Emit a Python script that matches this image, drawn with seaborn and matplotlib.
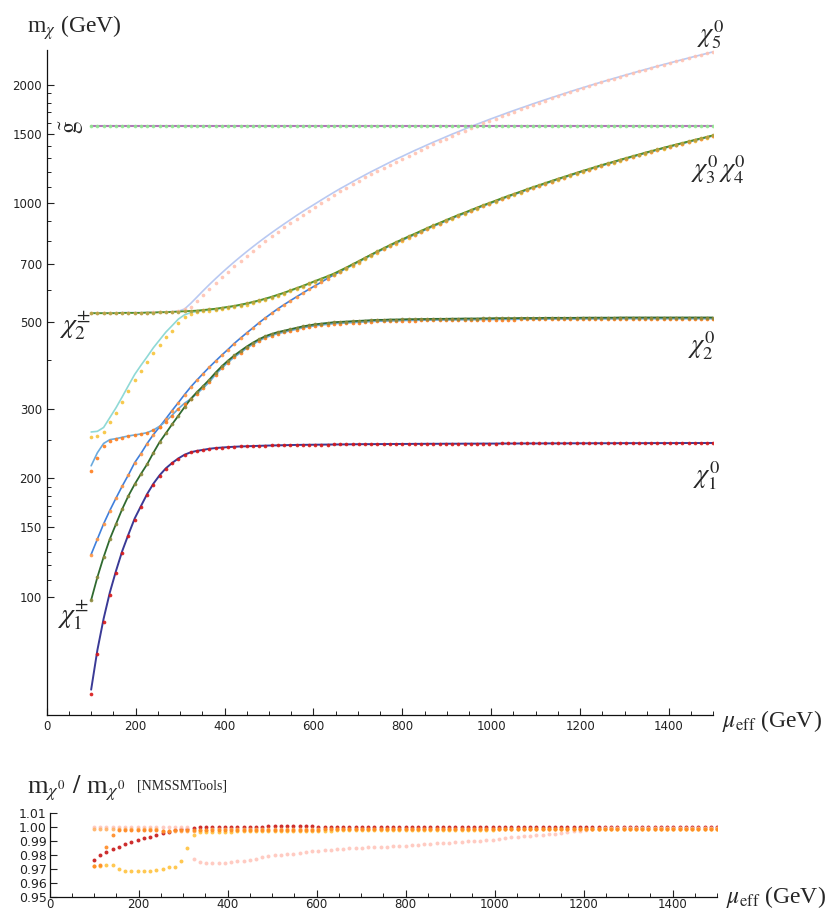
import numpy as np
import matplotlib
matplotlib.use("Agg")
import matplotlib.pyplot as plt
import seaborn as sns

#### DATA ####
mu = [100, 114, 128, 142, 156, 170, 184, 198, 212, 226,
      240, 254, 268, 282, 296, 310, 324, 338, 352, 366,
      380, 394, 408, 422, 436, 450, 464, 478, 492, 506,
      520, 534, 548, 562, 576, 590, 604, 618, 632, 646,
      660, 674, 688, 702, 716, 730, 744, 758, 772, 786,
      800, 814, 828, 842, 856, 870, 884, 898, 912, 926,
      940, 954, 968, 982, 996, 1010, 1024, 1038, 1052, 1066,
      1080, 1094, 1108, 1122, 1136, 1150, 1164, 1178, 1192, 1206,
      1220, 1234, 1248, 1262, 1276, 1290, 1304, 1318, 1332, 1346,
      1360, 1374, 1388, 1402, 1416, 1430, 1444, 1458, 1472, 1486,
      1500]

# neutralino masses (lines)
chi1 = [58.0, 73.1, 87.8, 102.4, 116.3, 130.6, 144.0, 158.0, 169.8, 182.3,
        193.6, 203.4, 211.8, 218.5, 224.4, 229.3, 232.7, 234.6, 236, 237.5,
        238.5, 239.2, 239.8, 240.3, 240.7, 241, 241.3, 241.6, 241.9, 242.1,
        242.3, 242.5, 242.7, 242.9, 243, 243.1, 243.2, 243.3, 243.4, 243.5,
        243.6, 243.7, 243.8, 243.9, 244, 244, 244.1, 244.1, 244.2, 244.2,
        244.3, 244.3, 244.4, 244.4, 244.5, 244.5, 244.5, 244.6, 244.6, 244.6,
        244.7, 244.7, 244.7, 244.8, 244.8, 244.8, 244.9, 244.9, 244.9, 245,
        245, 245, 245, 245.1, 245.1, 245.1, 245.1, 245.2, 245.2, 245.2,
        245.2, 245.3, 245.3, 245.3, 245.3, 245.4, 245.4, 245.4, 245.4, 245.4,
        245.5, 245.5, 245.5, 245.5, 245.5, 245.6, 245.6, 245.6, 245.6, 245.6,
        245.7]
chiA = [128, 140, 153, 165.5, 178, 191, 204, 219, 231, 245,
        258, 270, 283, 297, 311, 326, 341, 355, 369, 383,
        397, 411, 425, 440, 454, 468, 482, 497, 511, 525,
        539, 552, 565, 578, 591, 604, 617, 630, 644, 657,
        670, 684, 698, 711, 725, 739, 752, 766, 780, 793,
        806, 820, 833, 847, 861, 875, 888, 902, 916, 930,
        943, 957, 971, 985, 998, 1012, 1026, 1040, 1053, 1067,
        1081, 1095, 1108, 1122, 1136, 1150, 1163, 1177, 1191, 1205,
        1218, 1232, 1246, 1259, 1272, 1286, 1299, 1313, 1326, 1340,
        1353, 1366, 1380, 1393, 1406, 1419, 1432, 1445, 1458, 1471,
        1485]
chiB = [215, 232, 245, 250.5, 252, 254, 256, 257.5, 259, 261,
        265, 271, 279, 289, 300, 310, 318, 328, 339, 351,
        367, 381, 394, 406, 417, 428, 438, 447, 455, 461,
        466, 470, 474, 478, 482, 485, 488, 490, 492, 494,
        495, 496, 497, 498, 499, 500, 501, 501, 502, 502,
        503, 503.5, 503.5, 504, 504, 504.5, 504.5, 504.5, 505, 505,
        505.5, 505.5, 505.5, 506, 506, 506.5, 506.5, 506.5, 506.5, 507,
        507, 507, 507, 507.5, 507.5, 507.5, 507.5, 507.5, 507.5, 508,
        508, 508, 508, 508, 508, 508.5, 508.5, 508.5, 508.5, 508.5,
        508.5, 508.5, 508.5, 508.5, 508.5, 508.5, 508.5, 508.5, 508.5, 508.5,
        508.5]
chiC = [262, 263, 269, 285, 302, 322, 344, 367, 387, 407,
        429, 449, 470, 488, 507, 520, 527, 530, 533, 535,
        537, 540, 543, 546, 550, 554, 559, 564, 570, 576,
        583, 590, 598, 606, 614, 623, 632, 641, 650, 660,
        670, 682, 695, 708, 722, 736, 750, 764, 778, 791,
        804, 818, 831, 845, 859, 873, 886, 900, 914, 928,
        941, 955, 969, 983, 996, 1010, 1024, 1038, 1051, 1065,
        1079, 1093, 1106, 1120, 1134, 1148, 1161, 1175, 1189, 1203,
        1216, 1230, 1244, 1257, 1270, 1284, 1297, 1311, 1324, 1338,
        1351, 1364, 1378, 1391, 1404, 1417, 1430, 1443, 1456, 1469,
        1483]
chi5 = [526, 526, 526, 526, 526, 527, 527, 527, 527, 527,
        528, 528, 529, 530, 531, 538, 556, 577, 599, 621,
        643, 665, 687, 709, 731, 753, 775, 797, 819, 841,
        863, 885, 907, 930, 952, 974, 996, 1019, 1042, 1065,
        1088, 1110, 1133, 1156, 1179, 1202, 1224, 1247, 1270, 1293,
        1315, 1338, 1361, 1383, 1406, 1429, 1451, 1474, 1497, 1519,
        1542, 1565, 1587, 1609, 1632, 1654, 1676, 1699, 1721, 1743,
        1765, 1788, 1810, 1832, 1854, 1876, 1898, 1921, 1943, 1965,
        1987, 2009, 2031, 2053, 2075, 2097, 2119, 2141, 2163, 2185,
        2207, 2229, 2251, 2272, 2294, 2316, 2338, 2360, 2381, 2403,
        2425]

# charginos and gluino
cha1 = [98, 112, 126, 140, 153, 167, 180.5, 193, 205, 217,
        232, 247, 260, 274, 288, 303, 318, 331, 343, 356,
        371, 385, 398, 410, 421, 432, 442, 451, 459, 465,
        470, 474, 478, 482, 486, 489, 492, 494, 496, 498,
        499, 500, 501, 502, 503, 504, 505, 505, 506, 506,
        506.5, 507, 507, 507.5, 507.5, 508, 508, 508, 508.5, 508.5,
        509, 509, 509, 509.5, 509.5, 510, 510, 510, 510, 510.5,
        510.5, 510.5, 510.5, 511, 511, 511, 511, 511, 511, 511.5,
        511.5, 511.5, 511.5, 511.5, 511.5, 512, 512, 512, 512, 512,
        512, 512, 512, 512, 512, 512, 512, 512, 512, 512,
        512]
cha2 = [525, 525, 525, 525, 525, 526, 526, 526, 526, 527,
        527, 528, 528, 529, 530, 531, 532, 533, 535, 537,
        539, 542, 545, 548, 552, 556, 561, 566, 572, 578,
        585, 592, 600, 608, 616, 625, 634, 643, 652, 662,
        674, 686, 699, 712, 726, 740, 754, 768, 782, 796,
        809, 823, 836, 850, 864, 878, 891, 905, 919, 933,
        946, 960, 974, 988, 1001, 1015, 1029, 1043, 1056, 1070,
        1084, 1098, 1111, 1125, 1139, 1153, 1166, 1180, 1194, 1208,
        1221, 1235, 1249, 1262, 1275, 1289, 1302, 1316, 1329, 1343,
        1356, 1369, 1383, 1396, 1409, 1422, 1435, 1448, 1461, 1474,
        1488]
gluino_mass = 1570

# m_chi0 / m_chi0[NMSSMTools]
ratio_chi1 = [.9765, .9797, .9825, .9843, .9857, .9878, .9893, .9907, .9921, .9928,
              .9943, .9957, .9964, .9976, .9983, .9988, .9991, .9998, 1.0, 1.0,
              1.0001, 1.0001, 1.0002, 1.0002, 1.0002, 1.0003, 1.0003, 1.0003, 1.0004, 1.0004,
              1.0004, 1.0004, 1.0004, 1.0005, 1.0004, 1.0004, 1.0003, 1.0003, 1.0003, 1.0003,
              1.0003, 1.0003, 1.0002, 1.0002, 1.0002, 1.0002, 1.0002, 1.0002, 1.0002, 1.0002,
              1.0002, 1.0002, 1.0002, 1.0002, 1.0002, 1.0002, 1.0002, 1.0002, 1.0002, 1.0002,
              1.0002, 1.0002, 1.0002, 1.0002, 1.0002, 1.0002, 1.0002, 1.0002, 1.0002, 1.0002,
              1.0002, 1.0002, 1.0002, 1.0002, 1.0002, 1.0002, 1.0002, 1.0002, 1.0002, 1.0002,
              1.0002, 1.0002, 1.0002, 1.0002, 1.0002, 1.0002, 1.0002, 1.0002, 1.0002, 1.0002,
              1.0002, 1.0002, 1.0002, 1.0002, 1.0002, 1.0002, 1.0002, 1.0002, 1.0002, 1.0002,
              1.0002]
ratio_chiB = [.9719, .9726, .9855, .9940, .9978, .9980, .9980, .9979, .9978, .9977,
              .9976, .9975, .9975, .9976, .9977, .9978, .9978, .9979, .9979, .9980,
              .9980, .9980, .9980, .9980, .9981, .9981, .9981, .9981, .9981, .9981,
              .9982, .9982, .9982, .9982, .9982, .9982, .9982, .9983, .9983, .9983,
              .9983, .9983, .9983, .9983, .9983, .9983, .9984, .9984, .9984, .9984,
              .9984, .9984, .9984, .9984, .9984, .9984, .9984, .9984, .9985, .9985,
              .9985, .9985, .9985, .9985, .9985, .9985, .9985, .9985, .9985, .9985,
              .9985, .9985, .9985, .9985, .9985, .9985, .9986, .9986, .9986, .9986,
              .9986, .9986, .9986, .9986, .9986, .9986, .9986, .9986, .9986, .9986,
              .9986, .9986, .9986, .9986, .9986, .9986, .9986, .9986, .9986, .9986,
              .9986]
ratio_chiA = [.9988, .9988, .9988, .9988, .9988, .9988, .9988, .9988, .9988, .9988,
              .9986, .9975, .9972, .9970, .9970, .9972, .9975, .9978, .9981, .9983,
              .9984, .9985, .9986, .9986, .9987, .9987, .9987, .9987, .9988, .9988,
              .9988, .9988, .9988, .9988, .9988, .9988, .9988, .9988, .9988, .9988,
              .9988, .9988, .9988, .9988, .9988, .9988, .9988, .9988, .9988, .9988,
              .9988, .9988, .9988, .9988, .9988, .9988, .9988, .9988, .9988, .9988,
              .9988, .9988, .9988, .9988, .9988, .9988, .9988, .9988, .9988, .9988,
              .9988, .9988, .9988, .9988, .9988, .9988, .9988, .9988, .9988, .9988,
              .9988, .9988, .9988, .9988, .9988, .9988, .9988, .9988, .9988, .9988,
              .9988, .9988, .9988, .9988, .9988, .9988, .9988, .9988, .9988, .9988,
              .9988]
ratio_chiC = [.9719, .9724, .9728, .9727, .9700, .9686, .9684, .9684, .9684, .9686,
              .9693, .9700, .9711, .9714, .9754, .9850, .9945, .9962, .9965, .9966,
              .9966, .9967, .9967, .9968, .9968, .9969, .9969, .9970, .9970, .9971,
              .9971, .9972, .9972, .9973, .9973, .9974, .9974, .9975, .9975, .9976,
              .9976, .9977, .9977, .9977, .9978, .9978, .9978, .9979, .9979, .9979,
              .9980, .9980, .9980, .9980, .9981, .9981, .9981, .9981, .9981, .9982,
              .9982, .9982, .9982, .9982, .9982, .9983, .9983, .9983, .9983, .9983,
              .9983, .9983, .9983, .9984, .9984, .9984, .9984, .9984, .9984, .9984,
              .9984, .9984, .9984, .9984, .9984, .9984, .9984, .9984, .9984, .9984,
              .9984, .9984, .9984, .9984, .9984, .9984, .9984, .9984, .9984, .9984,
              .9984]
ratio_chi5 = [1.0003, 1.0003, 1.0003, 1.0003, 1.0003, 1.0003, 1.0003, 1.0003, 1.0003, 1.0003,
              1.0003, 1.0003, 1.0003, 1.0003, 1.0003, 1.0003, .9774, .9747, .9743, .9740,
              .9740, .9745, .9750, .9756, .9760, .9765, .9775, .9783, .9790, .9797,
              .9803, .9807, .9810, .9815, .9820, .9828, .9832, .9835, .9838, .9841,
              .9845, .9848, .9850, .9852, .9854, .9856, .9858, .9860, .9862, .9864,
              .9866, .9868, .9872, .9878, .9881, .9884, .9887, .9889, .9892, .9895,
              .9898, .9900, .9902, .9905, .9910, .9915, .9920, .9926, .9931, .9935,
              .9939, .9942, .9945, .9948, .9952, .9956, .9962, .9968, .9974, .9979,
              .9984, .9988, .9992, .9993, .9993, .9994, .9994, .9994, .9995, .9995,
              .9995, .9995, .9995, .9995, .9995, .9995, .9995, .9995, .9995, .9995,
              .9995]

for arr in [chi1, chiA, chiB, chiC, chi5, cha1, cha2, ratio_chi1, ratio_chiA,
            ratio_chiB, ratio_chiC, ratio_chi5]:
    assert len(arr) == len(mu), len(arr)

mu = np.array(mu)
gluino = np.full(len(mu), gluino_mass, dtype=float)

#### STYLE ####
sns.set_style("ticks")
plt.rcParams["font.family"] = ["DejaVu Sans"]
plt.rcParams["mathtext.fontset"] = "stix"

W, H = 832, 913
fig = plt.figure(figsize=(W / 100, H / 100), dpi=100)


def px_axes(x0, y0, x1, y1):
    return fig.add_axes([x0 / W, 1 - y1 / H, (x1 - x0) / W, (y1 - y0) / H])


def px_text(x, y, s, **kw):
    kw.setdefault("family", ["Liberation Serif", "DejaVu Serif"])
    fig.text(x / W, 1 - y / H, s, **kw)


ax = px_axes(46.7, 50, 713.5, 715)
ax2 = px_axes(49.5, 813, 717, 897)

# (line, dots, line colour, dot colour, line width)
curves = [
    (chi5, np.array(chi5) * ratio_chi5, "#b9c9f2", "#ffc2b2", 1.2),
    (chiC, np.array(chiC) * ratio_chiC, "#8fd9d6", "#f7c43a", 1.2),
    (chiA, np.array(chiA) * ratio_chiA, "#3f7fdc", "#ff9442", 1.2),
    (chiB, np.array(chiB) * ratio_chiB, "#6aaade", "#ff7d1c", 1.2),
    (chi1, np.array(chi1) * ratio_chi1, "#3a3a96", "#d91616", 1.4),
    (cha1, cha1, "#2f6a30", "#8c8a3c", 1.3),
    (cha2, cha2, "#4f8f28", "#b4a23e", 1.3),
    (gluino, gluino, "#b274ba", "#8fe88f", 1.5),
]

for line, dots, lc, dc, lw in curves:
    sns.lineplot(x=mu, y=line, ax=ax, color=lc, linewidth=lw,
                 estimator=None, sort=False)
for line, dots, lc, dc, lw in curves:
    sns.scatterplot(x=mu, y=dots, ax=ax, color=dc, s=7, linewidth=0,
                    alpha=0.9, zorder=3)

ax.set_yscale("log")
ax.set_xlim(0, 1500)
ax.set_ylim(50, 2450)
major_y = [100, 150, 200, 300, 500, 700, 1000, 1500, 2000]
minor_y = [110, 120, 130, 140, 160, 170, 180, 190, 250, 400, 600, 800, 900,
           1100, 1200, 1300, 1400, 1600, 1700, 1800, 1900]
ax.set_yticks(major_y)
ax.set_yticklabels([str(v) for v in major_y])
ax.set_yticks(minor_y, minor=True)
ax.set_yticklabels([], minor=True)

# lower panel
lower = [
    (ratio_chi1, "#c81616"),
    (ratio_chi5, "#ffc6bc"),
    (ratio_chiA, "#ffb266"),
    (ratio_chiC, "#ffc23e"),
    (ratio_chiB, "#ff8a22"),
]
for r, c in lower:
    sns.scatterplot(x=mu, y=r, ax=ax2, color=c, s=8, linewidth=0, alpha=0.9)

ax2.set_xlim(0, 1500)
ax2.set_ylim(0.95, 1.01)
ry = [0.95, 0.96, 0.97, 0.98, 0.99, 1.00, 1.01]
ax2.set_yticks(ry)
ax2.set_yticklabels(["%.2f" % v for v in ry], fontsize=10.5)

for a in (ax, ax2):
    sns.despine(ax=a)
    a.set_xlabel("")
    a.set_ylabel("")
    a.set_xticks(list(range(0, 1500, 200)))
    a.set_xticks(list(range(0, 1501, 50)), minor=True)
    a.tick_params(which="major", direction="in", length=5, width=0.8,
                  colors="#222222", labelsize=9)
    a.tick_params(which="minor", direction="in", length=3, width=0.7,
                  colors="#222222")
    for sp in ("left", "bottom"):
        a.spines[sp].set_linewidth(0.9)
        a.spines[sp].set_color("#111111")
    a.set_facecolor("white")

ax.tick_params(axis="y", labelsize=8.5)
ax.tick_params(axis="x", labelsize=8.5)
ax2.tick_params(axis="x", labelsize=8.5, pad=1)
ax2.tick_params(axis="y", pad=2)

# axis titles
px_text(27, 33, r"m$_\chi$ (GeV)", fontsize=17)
px_text(722, 727, r"$\mu_{\rm eff}$ (GeV)", fontsize=17)
px_text(27, 793, r"m$_{\chi^0}$ $/$ m$_{\chi^0}$", fontsize=19)
px_text(137, 790, "[NMSSMTools]", fontsize=10)
px_text(726, 903, r"$\mu_{\rm eff}$ (GeV)", fontsize=17)

# curve labels
px_text(72, 127, r"$\tilde{\mathrm{g}}$", fontsize=18, rotation=90,
        ha="center", va="center")
px_text(59, 333, r"$\chi^{\pm}_{2}$", fontsize=20)
px_text(57, 623, r"$\chi^{\pm}_{1}$", fontsize=20)
px_text(697, 42, r"$\chi^{0}_{5}$", fontsize=19)
px_text(691, 177, r"$\chi^{0}_{3}\,\chi^{0}_{4}$", fontsize=19)
px_text(688, 353, r"$\chi^{0}_{2}$", fontsize=19)
px_text(693, 483, r"$\chi^{0}_{1}$", fontsize=19)

fig.savefig("out.png", dpi=100, facecolor="white")
